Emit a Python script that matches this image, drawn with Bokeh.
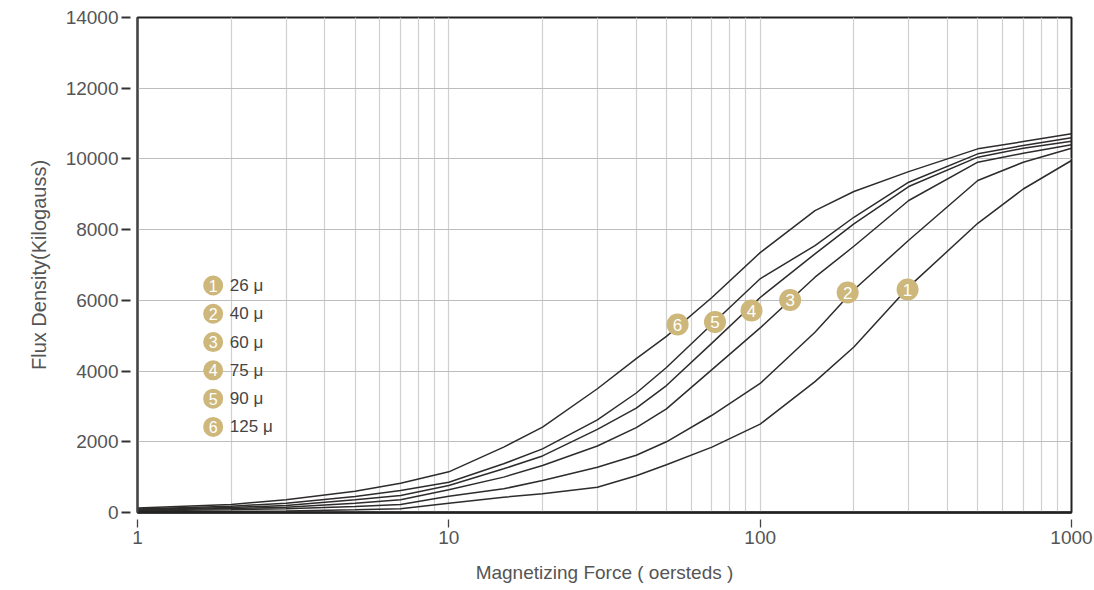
from bokeh.plotting import figure
from bokeh.models import Range1d, FixedTicker, PrintfTickFormatter
from bokeh.embed import file_html
from bokeh.resources import INLINE
from bokeh.core.properties import value

# Magnetizing force (oersteds)
force = [1, 2, 3, 5, 7, 10, 15, 20, 30, 40, 50, 70, 100, 150, 200, 300, 500, 700, 1000]

# Flux density per permeability grade
b_26 = [20, 30, 40, 75, 104, 264, 433, 528, 716, 1040, 1350, 1850, 2500, 3700, 4680, 6380, 8180, 9150, 9955]
b_40 = [50, 80, 104, 170, 226, 461, 670, 905, 1282, 1620, 2000, 2750, 3650, 5100, 6300, 7700, 9389, 9907, 10303]
b_60 = [70, 110, 150, 264, 360, 641, 1000, 1330, 1880, 2400, 2930, 4040, 5220, 6655, 7530, 8824, 9907, 10160, 10399]
b_75 = [85, 140, 198, 360, 480, 763, 1235, 1600, 2350, 2950, 3590, 4790, 6080, 7316, 8165, 9220, 10050, 10300, 10500]
b_90 = [100, 180, 264, 452, 622, 857, 1377, 1800, 2620, 3380, 4100, 5325, 6610, 7550, 8350, 9341, 10144, 10380, 10597]
b_125 = [130, 226, 360, 600, 830, 1150, 1850, 2413, 3500, 4350, 4980, 6080, 7350, 8540, 9080, 9640, 10285, 10490, 10710]

series = [b_26, b_40, b_60, b_75, b_90, b_125]
badge_text = ["1", "2", "3", "4", "5", "6"]
legend_text = ["26 \u03bc", "40 \u03bc", "60 \u03bc", "75 \u03bc", "90 \u03bc", "125 \u03bc"]
# curve badge positions (on the curves)
badge_x = [297.5, 191, 124.8, 93.8, 71.6, 54.3]
badge_y = [6307, 6222, 6010, 5713, 5390, 5317]

y_ticks = [0, 2000, 4000, 6000, 8000, 10000, 12000, 14000]
x_ticks = [1, 10, 100, 1000]

FONT = "Liberation Sans"
GOLD = "#CDB77B"
LINE = "#2e2b2b"

p = figure(width=1094, height=590, x_axis_type="log",
           x_range=Range1d(1, 1000), y_range=Range1d(0, 14000),
           output_backend="svg", toolbar_location=None,
           min_border_left=137, min_border_right=23,
           min_border_top=17, min_border_bottom=78)

p.outline_line_color = "#222222"
p.outline_line_width = 2
p.background_fill_color = "white"
p.border_fill_color = "white"

grid_ticks = [m * 10 ** e for e in range(3) for m in range(1, 10)] + [1000]
p.xgrid[0].ticker = FixedTicker(ticks=grid_ticks)
p.xgrid.grid_line_color = "#d0d0d0"
p.xgrid.grid_line_width = 1.2
p.ygrid[0].ticker = FixedTicker(ticks=y_ticks)
p.ygrid.grid_line_color = "#bdbdbd"
p.ygrid.grid_line_width = 1.2

# axes
p.xaxis.ticker = FixedTicker(ticks=x_ticks)
p.xaxis.formatter = PrintfTickFormatter(format="%d")
p.xaxis.minor_tick_line_color = None
p.xaxis.major_tick_in = -7
p.xaxis.major_tick_out = 15
p.xaxis.major_tick_line_color = "#444444"
p.xaxis.major_tick_line_width = 1.3
p.xaxis.axis_line_color = "#222222"
p.xaxis.axis_line_width = 2.5
p.xaxis.major_label_standoff = 3
p.xaxis.axis_label = "Magnetizing Force ( oersteds )"
p.xaxis.axis_label_standoff = 15
p.xaxis.axis_label_text_font_size = "19px"

p.yaxis.ticker = FixedTicker(ticks=y_ticks)
p.yaxis.minor_tick_line_color = None
p.yaxis.major_tick_in = -7
p.yaxis.major_tick_out = 16
p.yaxis.major_tick_line_color = "#333333"
p.yaxis.major_tick_line_width = 2
p.yaxis.axis_line_color = "#444444"
p.yaxis.axis_line_width = 2
p.yaxis.major_label_standoff = 3
p.yaxis.axis_label = "Flux Density(Kilogauss)"
p.yaxis.axis_label_standoff = 13
p.yaxis.axis_label_text_font_size = "20px"

for ax in (p.xaxis, p.yaxis):
    ax.major_label_text_font = FONT
    ax.major_label_text_font_size = "19px"
    ax.major_label_text_color = "#555555"
    ax.axis_label_text_font = FONT
    ax.axis_label_text_font_style = "normal"
    ax.axis_label_text_color = "#555555"

for s in series:
    p.line(force, s, line_color=LINE, line_width=1.5)

# badges on curves
p.scatter(badge_x, badge_y, marker="circle", size=22, fill_color=GOLD,
          line_color=None)
p.text(badge_x, badge_y, text=badge_text, text_color="white",
       text_font=value(FONT), text_font_size="17px",
       text_align="center", text_baseline="middle")

# legend block
leg_y = [6420 - 800 * i for i in range(6)]
p.scatter([1.75] * 6, leg_y, marker="circle", size=20, fill_color=GOLD,
          line_color=None)
p.text([1.75] * 6, leg_y, text=badge_text, text_color="white",
       text_font=value(FONT), text_font_size="16px",
       text_align="center", text_baseline="middle")
p.text([1.98] * 6, leg_y, text=legend_text, text_color="#444444",
       text_font=value(FONT), text_font_size="17px",
       text_align="left", text_baseline="middle")

open("out.html", "w").write(file_html(p, INLINE))
